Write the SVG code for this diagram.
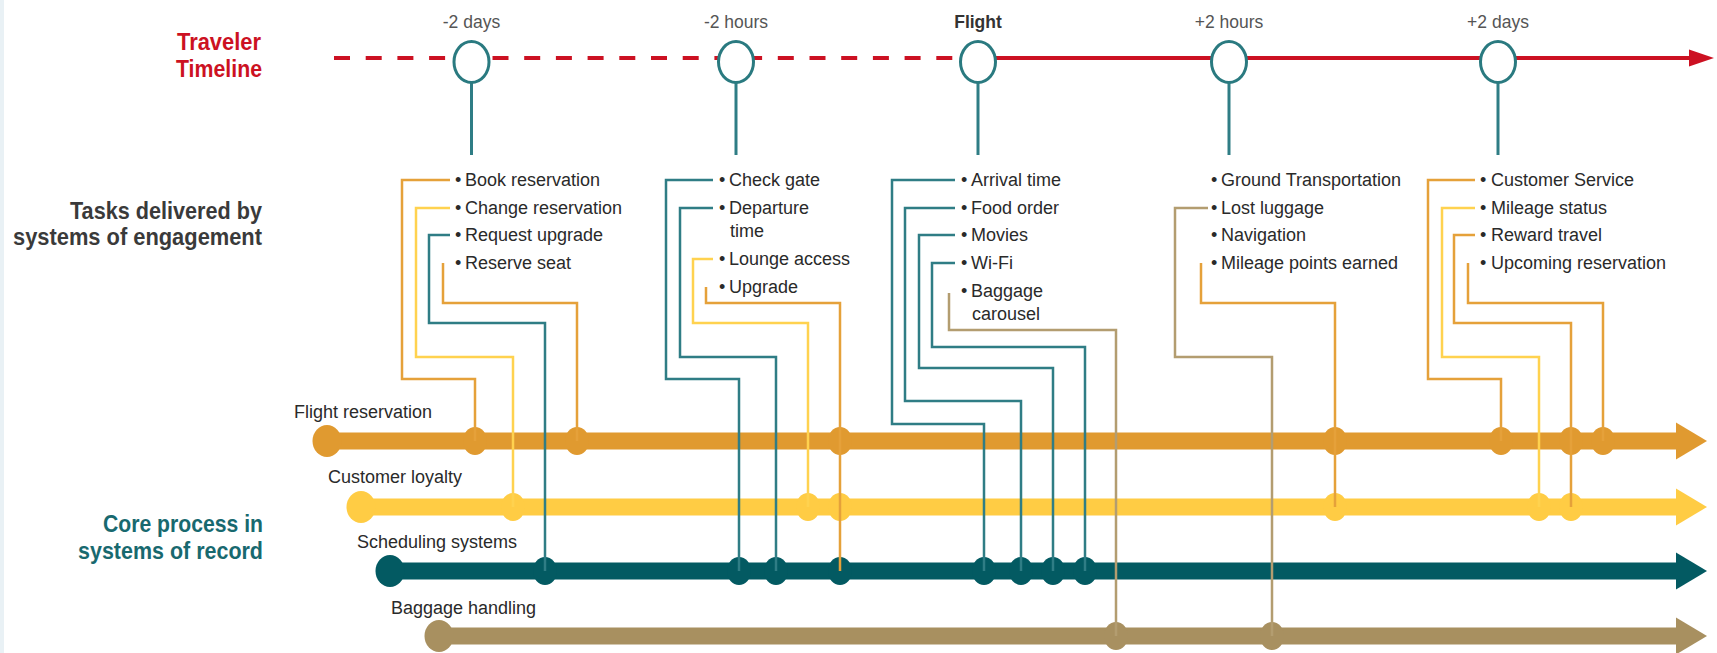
<svg xmlns="http://www.w3.org/2000/svg" xmlns:xlink="http://www.w3.org/1999/xlink" width="1717" height="653" viewBox="0 0 1717 653">
<defs>
<style>
text{font-family:"Liberation Sans",Arial,sans-serif}
.big{font-size:24px;font-weight:bold}
.red{fill:#cc1122}
.gray{fill:#3a3a3a}
.teal{fill:#18696f}
.time{font-size:17.5px;fill:#555555;text-anchor:middle}
.bul{font-size:18px;fill:#2a2a2a}
.sys{font-size:18px;fill:#2a2a2a}
.ms{fill:#ffffff;stroke:#2a7a80;stroke-width:3}
.stem{stroke:#2f7d85;stroke-width:3;fill:none}
.c{fill:none;stroke-width:2.5;stroke-linejoin:miter}
.c-or{stroke:#e5a13a}
.c-ye{stroke:#ffd24f}
.c-te{stroke:#2f7d85}
.c-ta{stroke:#b39d70}
.bar{stroke-width:17;fill:none}
</style>
<path id="ah" d="M0,-18.5 L31,0 L0,18.5 Z"/>
</defs>
<rect x="0" y="0" width="1717" height="653" fill="#ffffff"/>
<rect x="0" y="0" width="4" height="653" fill="#e9f1f5"/>

<!-- Left labels -->
<g id="label-traveler">
<text class="big red" x="177" y="50" textLength="84" lengthAdjust="spacingAndGlyphs">Traveler</text>
<text class="big red" x="176" y="77" textLength="86" lengthAdjust="spacingAndGlyphs">Timeline</text>
</g>
<g id="label-tasks">
<text class="big gray" x="70" y="219" textLength="192" lengthAdjust="spacingAndGlyphs">Tasks delivered by</text>
<text class="big gray" x="13" y="245" textLength="249" lengthAdjust="spacingAndGlyphs">systems of engagement</text>
</g>
<g id="label-core">
<text class="big teal" x="103" y="532" textLength="160" lengthAdjust="spacingAndGlyphs">Core process in</text>
<text class="big teal" x="78" y="559" textLength="185" lengthAdjust="spacingAndGlyphs">systems of record</text>
</g>

<!-- Timeline -->
<g id="timeline">
<line x1="334" y1="58" x2="962" y2="58" stroke="#cc1122" stroke-width="4" stroke-dasharray="16 15.7"/>
<line x1="975" y1="58" x2="1691" y2="58" stroke="#cc1122" stroke-width="4"/>
<path d="M1689,49.5 L1714,58 L1689,66.5 Z" fill="#cc1122"/>
</g>

<!-- Systems of record bars -->
<g id="sys-flight-reservation" fill="#e09a30">
<text class="sys" x="294" y="418">Flight reservation</text>
<line class="bar" x1="327" y1="441" x2="1680" y2="441" stroke="#e09a30"/>
<ellipse cx="327" cy="441" rx="14.5" ry="16"/>
<use xlink:href="#ah" x="1676" y="441"/>
<ellipse cx="475" cy="441" rx="12" ry="14"/>
<ellipse cx="577" cy="441" rx="12" ry="14"/>
<ellipse cx="840" cy="441" rx="12" ry="14"/>
<ellipse cx="1335" cy="441" rx="12" ry="14"/>
<ellipse cx="1501" cy="441" rx="12" ry="14"/>
<ellipse cx="1571" cy="441" rx="12" ry="14"/>
<ellipse cx="1603" cy="441" rx="12" ry="14"/>
</g>
<g id="sys-customer-loyalty" fill="#ffcc44">
<text class="sys" x="328" y="483">Customer loyalty</text>
<line class="bar" x1="361" y1="507" x2="1680" y2="507" stroke="#ffcc44"/>
<ellipse cx="361" cy="507" rx="14.5" ry="16"/>
<use xlink:href="#ah" x="1676" y="507"/>
<ellipse cx="513" cy="507" rx="12" ry="14"/>
<ellipse cx="808" cy="507" rx="12" ry="14"/>
<ellipse cx="840" cy="507" rx="12" ry="14"/>
<ellipse cx="1335" cy="507" rx="12" ry="14"/>
<ellipse cx="1539" cy="507" rx="12" ry="14"/>
<ellipse cx="1571" cy="507" rx="12" ry="14"/>
</g>
<g id="sys-scheduling-systems" fill="#035a62">
<text class="sys" x="357" y="548">Scheduling systems</text>
<line class="bar" x1="390" y1="571" x2="1680" y2="571" stroke="#035a62"/>
<ellipse cx="390" cy="571" rx="14.5" ry="16"/>
<use xlink:href="#ah" x="1676" y="571"/>
<ellipse cx="545" cy="571" rx="12" ry="14"/>
<ellipse cx="739" cy="571" rx="12" ry="14"/>
<ellipse cx="776" cy="571" rx="12" ry="14"/>
<ellipse cx="840" cy="571" rx="12" ry="14"/>
<ellipse cx="984" cy="571" rx="12" ry="14"/>
<ellipse cx="1021" cy="571" rx="12" ry="14"/>
<ellipse cx="1053" cy="571" rx="12" ry="14"/>
<ellipse cx="1085" cy="571" rx="12" ry="14"/>
</g>
<g id="sys-baggage-handling" fill="#a89060">
<text class="sys" x="391" y="614">Baggage handling</text>
<line class="bar" x1="439" y1="636" x2="1680" y2="636" stroke="#a89060"/>
<ellipse cx="439" cy="636" rx="14.5" ry="16"/>
<use xlink:href="#ah" x="1676" y="636"/>
<ellipse cx="1116" cy="636" rx="12" ry="14"/>
<ellipse cx="1272" cy="636" rx="12" ry="14"/>
</g>

<!-- Connectors -->
<g id="connectors">
<path class="c c-or" d="M450,180 H402 V379 H475 V441"/>
<path class="c c-ye" d="M450,208 H416 V357 H513 V507"/>
<path class="c c-te" d="M450,235 H429 V323 H545 V571"/>
<path class="c c-or" d="M443,263 V303 H577 V441"/>

<path class="c c-te" d="M713,180 H666 V379 H739 V571"/>
<path class="c c-te" d="M713,208 H680 V357 H776 V571"/>
<path class="c c-ye" d="M713,259 H693 V323 H808 V507"/>
<path class="c c-or" d="M706,287 V303 H840 V571"/>

<path class="c c-te" d="M955,180 H892 V424 H984 V571"/>
<path class="c c-te" d="M955,208 H905 V401 H1021 V571"/>
<path class="c c-te" d="M955,235 H919 V368 H1053 V571"/>
<path class="c c-te" d="M955,263 H932 V347 H1085 V571"/>
<path class="c c-ta" d="M949,293 V330 H1116 V636"/>

<path class="c c-ta" d="M1208,208 H1175 V357 H1272 V636"/>
<path class="c c-or" d="M1201,263 V303 H1335 V507"/>

<path class="c c-or" d="M1475,180 H1428 V379 H1501 V441"/>
<path class="c c-ye" d="M1475,208 H1442 V357 H1539 V507"/>
<path class="c c-or" d="M1475,235 H1454 V323 H1571 V507"/>
<path class="c c-or" d="M1468,263 V303 H1603 V441"/>
</g>

<!-- Milestones -->
<g id="m-minus-2-days">
<text class="time" x="471.5" y="28">-2 days</text>
<line class="stem" x1="471.5" y1="82" x2="471.5" y2="155"/>
<ellipse class="ms" cx="471.5" cy="62" rx="17.5" ry="20.5"/>
<text class="bul" x="455" y="186">•<tspan x="465">Book reservation</tspan></text>
<text class="bul" x="455" y="214">•<tspan x="465">Change reservation</tspan></text>
<text class="bul" x="455" y="241">•<tspan x="465">Request upgrade</tspan></text>
<text class="bul" x="455" y="269">•<tspan x="465">Reserve seat</tspan></text>
</g>
<g id="m-minus-2-hours">
<text class="time" x="736" y="28">-2 hours</text>
<line class="stem" x1="736" y1="82" x2="736" y2="155"/>
<ellipse class="ms" cx="736" cy="62" rx="17.5" ry="20.5"/>
<text class="bul" x="719" y="186">•<tspan x="729">Check gate</tspan></text>
<text class="bul" x="719" y="214">•<tspan x="729">Departure</tspan><tspan x="730" y="237">time</tspan></text>
<text class="bul" x="719" y="265">•<tspan x="729">Lounge access</tspan></text>
<text class="bul" x="719" y="293">•<tspan x="729">Upgrade</tspan></text>
</g>
<g id="m-flight">
<text class="time" x="978" y="28" style="font-weight:bold;fill:#333333">Flight</text>
<line class="stem" x1="978" y1="82" x2="978" y2="155"/>
<ellipse class="ms" cx="978" cy="62" rx="17.5" ry="20.5"/>
<text class="bul" x="961" y="186">•<tspan x="971">Arrival time</tspan></text>
<text class="bul" x="961" y="214">•<tspan x="971">Food order</tspan></text>
<text class="bul" x="961" y="241">•<tspan x="971">Movies</tspan></text>
<text class="bul" x="961" y="269">•<tspan x="971">Wi-Fi</tspan></text>
<text class="bul" x="961" y="297">•<tspan x="971">Baggage</tspan><tspan x="972" y="320">carousel</tspan></text>
</g>
<g id="m-plus-2-hours">
<text class="time" x="1229" y="28">+2 hours</text>
<line class="stem" x1="1229" y1="82" x2="1229" y2="155"/>
<ellipse class="ms" cx="1229" cy="62" rx="17.5" ry="20.5"/>
<text class="bul" x="1211" y="186">•<tspan x="1221">Ground Transportation</tspan></text>
<text class="bul" x="1211" y="214">•<tspan x="1221">Lost luggage</tspan></text>
<text class="bul" x="1211" y="241">•<tspan x="1221">Navigation</tspan></text>
<text class="bul" x="1211" y="269">•<tspan x="1221">Mileage points earned</tspan></text>
</g>
<g id="m-plus-2-days">
<text class="time" x="1498" y="28">+2 days</text>
<line class="stem" x1="1498" y1="82" x2="1498" y2="155"/>
<ellipse class="ms" cx="1498" cy="62" rx="17.5" ry="20.5"/>
<text class="bul" x="1480" y="186">•<tspan x="1491">Customer Service</tspan></text>
<text class="bul" x="1480" y="214">•<tspan x="1491">Mileage status</tspan></text>
<text class="bul" x="1480" y="241">•<tspan x="1491">Reward travel</tspan></text>
<text class="bul" x="1480" y="269">•<tspan x="1491">Upcoming reservation</tspan></text>
</g>
</svg>
